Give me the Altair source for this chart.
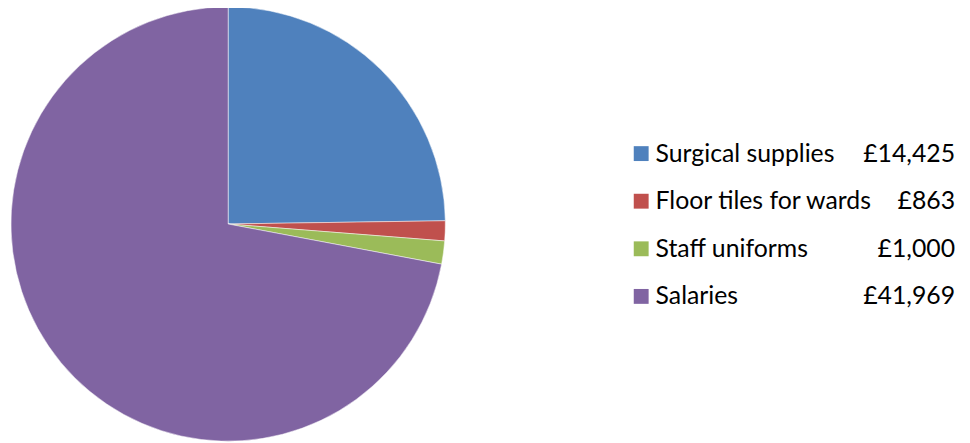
import altair as alt
import pandas as pd

categories = ["Surgical supplies", "Floor tiles for wards", "Staff uniforms", "Salaries"]
values = [14425, 863, 1000, 41969]
value_labels = ["£14,425", "£863", "£1,000", "£41,969"]
colors = ["#4F81BD", "#C0504D", "#9BBB59", "#8064A2"]

df = pd.DataFrame({
    "category": categories,
    "value": values,
    "label": value_labels,
    "order": list(range(len(categories))),
})

color_scale = alt.Scale(domain=categories, range=colors)
yscale = alt.Scale(type="point", domain=categories, range=[145, 289], padding=0)

pie = alt.Chart(df).mark_arc(stroke="white", strokeWidth=0.5, outerRadius=219).encode(
    theta=alt.Theta("value:Q", stack=True),
    order=alt.Order("order:Q"),
    color=alt.Color("category:N", scale=color_scale, legend=None),
    x=alt.value(222),
    y=alt.value(216),
)

squares = alt.Chart(df).mark_square(size=225, opacity=1).encode(
    x=alt.value(638.5),
    y=alt.Y("category:N", scale=yscale, axis=None),
    color=alt.Color("category:N", scale=color_scale, legend=None),
)

names = alt.Chart(df).mark_text(align="left", baseline="middle", font="Lato", fontSize=25, color="#000000").encode(
    x=alt.value(653),
    y=alt.Y("category:N", scale=yscale, axis=None),
    text="category:N",
)

amounts = alt.Chart(df).mark_text(align="right", baseline="middle", font="Lato", fontSize=25, color="#000000").encode(
    x=alt.value(955),
    y=alt.Y("category:N", scale=yscale, axis=None),
    text="label:N",
)

chart = alt.layer(pie, squares, names, amounts).properties(
    width=962, height=435, padding=0, autosize=alt.AutoSizeParams(type="none")
).configure_view(stroke=None)

chart.save("out.html", embed_options={"renderer": "svg", "actions": False})
